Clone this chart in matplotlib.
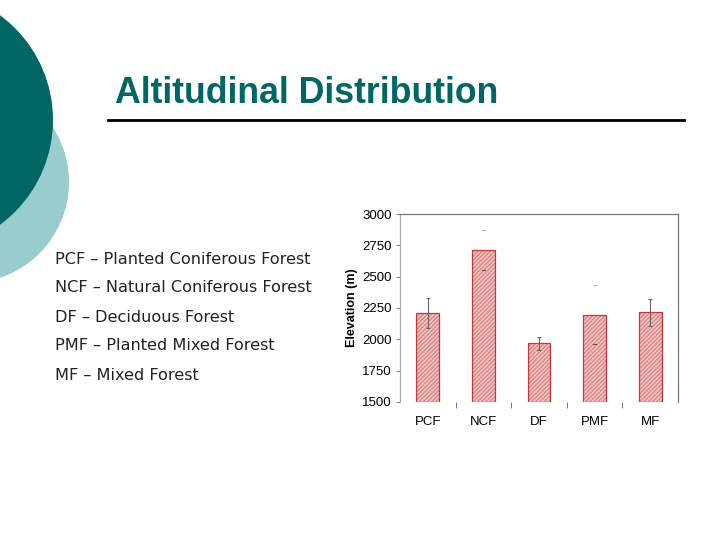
import numpy as np
import matplotlib.pyplot as plt
from matplotlib.patches import Circle

# data
categories = ["PCF", "NCF", "DF", "PMF", "MF"]
elevation = [2210, 2710, 1970, 2195, 2215]
elev_err = [120, 160, 52, 235, 107]
err_visible = [True, False, True, False, True]
yticks = [1500, 1750, 2000, 2250, 2500, 2750, 3000]
legend_lines = [
    "PCF – Planted Coniferous Forest",
    "NCF – Natural Coniferous Forest",
    "DF – Deciduous Forest",
    "PMF – Planted Mixed Forest",
    "MF – Mixed Forest",
]

teal = "#006663"
light_teal = "#99CCCC"

fig = plt.figure(figsize=(7.2, 5.4), dpi=100)
fig.patch.set_facecolor("white")

# slide background in pixel coordinates
bg = fig.add_axes([0, 0, 1, 1])
bg.set_xlim(0, 720)
bg.set_ylim(540, 0)
bg.axis("off")
bg.add_patch(Circle((-32, 182), 101, color=light_teal, lw=0))
bg.add_patch(Circle((-77, 120), 130, color=teal, lw=0))
bg.text(115, 103, "Altitudinal Distribution", color=teal, fontsize=25.7,
        fontweight="bold", family="Liberation Sans", va="baseline")
bg.plot([108, 684], [120, 120], color="black", lw=2)
for i, line in enumerate(legend_lines):
    bg.text(55, 259 + i * 29, line, fontsize=11.6, family="DejaVu Sans",
            va="center", color="#222222")

# chart
ax = fig.add_axes([400 / 720, 1 - 402 / 540, 278 / 720, 188 / 540])
x = np.arange(len(categories))
heights = [v - 1500 for v in elevation]
ax.bar(x, heights, bottom=1500, width=0.41,
       color="#F7C9C9", edgecolor="#E28080", hatch="////////", lw=0)
ax.bar(x, heights, bottom=1500, width=0.41,
       fill=False, edgecolor="#C03838", lw=0.9)
for xi, v, e, vis in zip(x, elevation, elev_err, err_visible):
    if vis:
        ax.errorbar(xi, v, yerr=e, fmt="none", ecolor="#666666",
                    elinewidth=0.8, capsize=1.5, capthick=0.8)
    else:
        # only the caps show on the slide
        ax.plot([xi - 0.02, xi + 0.02], [v + e, v + e], color="#aaaaaa", lw=0.6)
        ax.plot([xi - 0.02, xi + 0.02], [v - e, v - e], color="#555555", lw=0.8)

ax.set_xlim(-0.5, 4.5)
ax.set_ylim(1500, 3000)
ax.set_yticks(yticks)
ax.set_xticks(x)
ax.set_xticklabels(categories, family="Liberation Sans", fontsize=9.5)
ax.set_xticks([0.5, 1.5, 2.5, 3.5], minor=True)
ax.tick_params(axis="x", which="major", length=0, pad=10)
ax.tick_params(axis="x", which="minor", length=4, color="#666666",
               direction="out", pad=0)
ax.tick_params(axis="y", length=3, color="#888888", labelsize=9.5, pad=3)
for lbl in ax.get_yticklabels():
    lbl.set_family("Liberation Sans")
ax.set_ylabel("Elevation (m)", fontsize=9, fontweight="bold",
              family="Liberation Sans", labelpad=3)
ax.spines["bottom"].set_visible(False)
ax.spines["left"].set_color("#AAAAAA")
ax.spines["top"].set_color("#777777")
ax.spines["right"].set_color("#777777")
for s in ax.spines.values():
    s.set_linewidth(0.9)

fig.savefig("out.png", dpi=100)
